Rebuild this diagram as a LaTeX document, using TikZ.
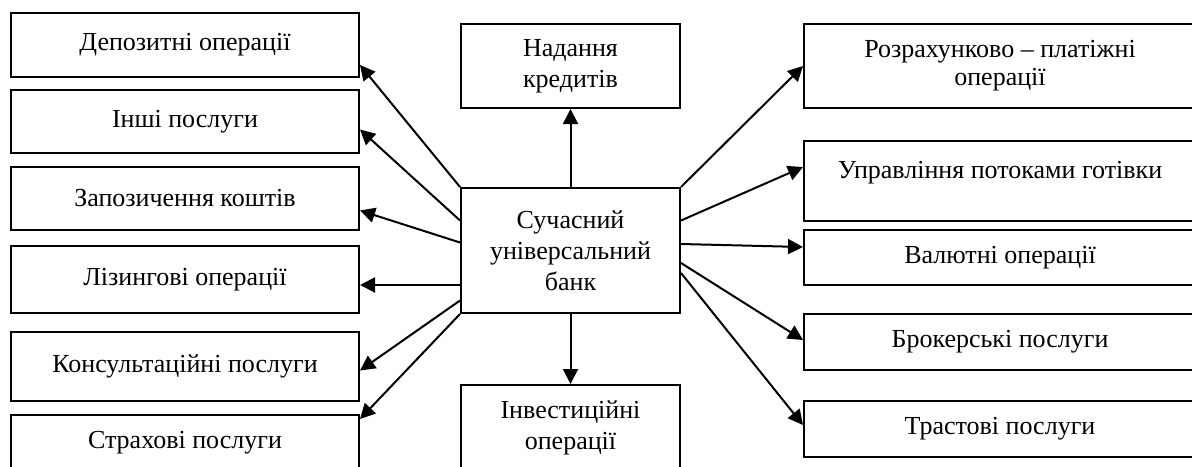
\documentclass[tikz,border=0pt]{standalone}
\usepackage{fontspec}
\setmainfont{Liberation Serif}
\usetikzlibrary{arrows.meta}

\begin{document}
\begin{tikzpicture}[x=0.5pt, y=-0.5pt,
		box/.style={draw, line width=1pt, align=center, inner sep=0pt, font=\fontsize{13}{14}\selectfont},
		mid/.style={box, minimum width=109.5pt, font=\fontsize{13}{15.5}\selectfont},
		lbox/.style={box, minimum width=174pt},
		rbox/.style={box, minimum width=196pt}]
		
		\useasboundingbox (0,0) rectangle (1192,466);
		
		\node[mid, minimum height=62.5pt] (bank) at (570.5,250.5) {Сучасний\\універсальний\\банк};
		\node[mid, minimum height=42pt] (nadan) at (570.5,66) {Надання\\кредитів};
		\node[mid, minimum height=43pt] (inv) at (570.5,428) {Інвестиційні\\операції};
		
		\node[lbox, minimum height=32pt] (dep) at (185,45) {Депозитні операції};
		\node[lbox, minimum height=31.5pt] (insh) at (185,121.5) {Інші послуги};
		\node[lbox, minimum height=31.5pt] (zap) at (185,198.5) {Запозичення коштів};
		\node[lbox, minimum height=33.5pt] (liz) at (185,279.5) {Лізингові операції};
		\node[lbox, minimum height=34.5pt] (kons) at (185,366.5) {Консультаційні послуги};
		\node[lbox, minimum height=28pt] (strakh) at (185,443) {Страхові послуги};
		
		\node[rbox, minimum height=42pt] (rozr) at (1000,66) {Розрахунково -- платіжні\\операції};
		\node[rbox, minimum height=40pt] (upr) at (1000,181) {Управління потоками готівки\\[-3pt]\mbox{}};
		\node[rbox, minimum height=27.5pt] (val) at (1000,257.5) {Валютні операції};
		\node[rbox, minimum height=28pt] (brok) at (1000,342) {Брокерські послуги};
		\node[rbox, minimum height=28pt] (trast) at (1000,429) {Трастові послуги};
		
		\path[line width=1pt, -{Triangle[length=7.5pt,width=7.5pt]}]
		(bank.north west) edge ([yshift=-10pt]dep.east)
		([yshift=15pt]bank.west) edge ([yshift=-4pt]insh.east)
		([yshift=4pt]bank.west) edge ([yshift=-6pt]zap.east)
		([yshift=-17.25pt]bank.west) edge ([yshift=-2.75pt]liz.east)
		([yshift=-25pt]bank.west) edge ([yshift=-2pt]kons.east)
		(bank.south west) edge ([yshift=-2.5pt]strakh.north east)
		(bank.north) edge (nadan.south)
		(bank.south) edge (inv.north)
		(bank.north east) edge (rozr.west)
		([yshift=15pt]bank.east) edge ([yshift=7pt]upr.west)
		([yshift=3.25pt]bank.east) edge ([yshift=5.25pt]val.west)
		([yshift=-6.25pt]bank.east) edge ([yshift=1pt]brok.west)
		([yshift=-11.25pt]bank.east) edge ([yshift=2pt]trast.west);
		
\end{tikzpicture}
\end{document}
